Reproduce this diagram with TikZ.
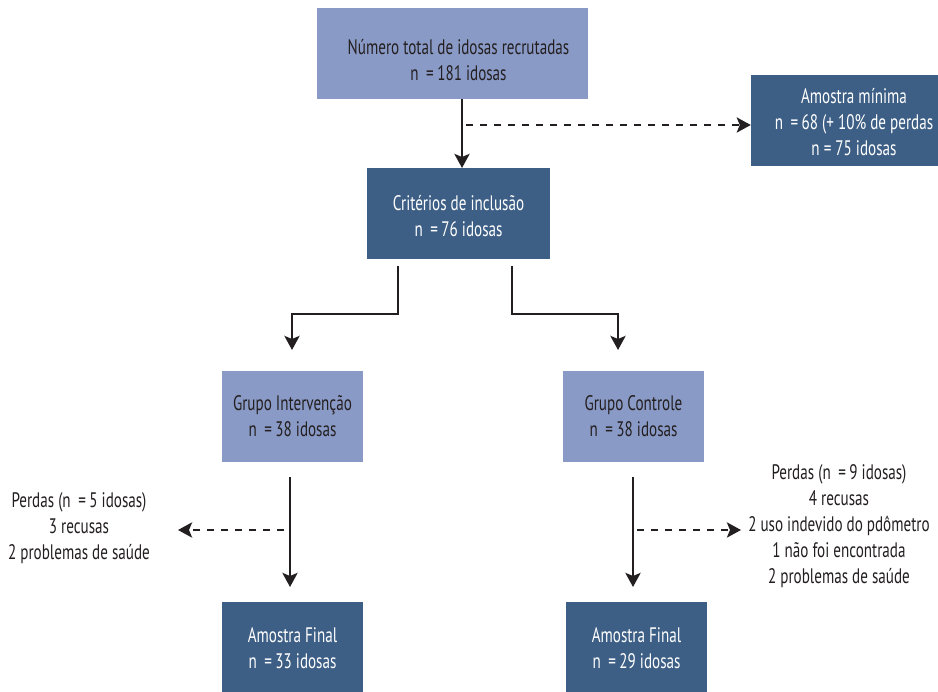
\documentclass[tikz,border=0pt]{standalone}
\usepackage{fontspec}
\setmainfont{PT Sans}[FakeStretch=0.72]
\usetikzlibrary{arrows.meta}
\definecolor{lightbox}{HTML}{8A9AC6}
\definecolor{darkbox}{HTML}{3D5F85}
\definecolor{ink}{HTML}{231F20}
\begin{document}
\begin{tikzpicture}[x=1pt,y=-1pt,
  every node/.style={font=\fontsize{21}{26}\selectfont},
  lbox/.style={fill=lightbox, inner sep=0pt, minimum height=91pt},
  dbox/.style={fill=darkbox, inner sep=0pt, minimum height=91pt},
  ltxt/.style={text=ink, align=center, inner sep=0pt},
  dtxt/.style={text=white, align=center, inner sep=0pt},
  note/.style={text=ink, align=center, inner sep=0pt},
  arr/.style={line width=2.8pt, draw=ink, -{Stealth[length=14pt,width=15pt,inset=3pt]}},
  darr/.style={line width=2.7pt, draw=ink, dash pattern=on 7pt off 7pt, -{Stealth[length=14pt,width=15pt,inset=3pt]}}]
\useasboundingbox (0,0) rectangle (938,692);
\fill[white] (0,0) rectangle (938,692);
% boxes
\node[lbox, minimum width=271pt] (top) at (452.5,53.5) {};
\node[ltxt] (toptext) at ([xshift=6pt,yshift=-7pt]top.center) {Número total de idosas recrutadas\\n\ \,=\,181 idosas};
\node[dbox, minimum width=206pt] (amin) at (854,120.5) {};
\node[dtxt] (amintext) at ([yshift=-2pt]amin.center) {Amostra mínima\\n\ \,=\,68 (+ 10\% de perdas\\n = 75 idosas};
\node[dbox, minimum width=183pt] (crit) at (458.5,213.5) {};
\node[dtxt] (crittext) at ([yshift=-3pt]crit.center) {Critérios de inclusão\\n\ \,=\,76 idosas};
\node[lbox, minimum width=141pt] (gi) at (292.5,416.5) {};
\node[ltxt] (gitext) at (gi.center) {Grupo Intervenção\\n\ \,=\,38 idosas};
\node[lbox, minimum width=141pt] (gc) at (633.5,416.5) {};
\node[ltxt] (gctext) at (gc.center) {Grupo Controle\\n\ \,=\,38 idosas};
\node[dbox, minimum width=141pt] (afi) at (292.5,648) {};
\node[dtxt] (afitext) at (afi.center) {Amostra Final\\n\ \,=\,33 idosas};
\node[dbox, minimum width=141pt] (afc) at (636.5,648) {};
\node[dtxt] (afctext) at (afc.center) {Amostra Final\\n\ \,=\,29 idosas};
\node[note] (pl) at (79,528) {Perdas (n\ \,=\,5 idosas)\\3 recusas\\2 problemas de saúde};
\node[note] (pr) at (839,526) {Perdas (n\ \,=\,9 idosas)\\4 recusas\\2 uso indevido do pdômetro\\1 não foi encontrada\\2 problemas de saúde};
% connector points
\coordinate (t1) at (462,99);
\coordinate (t2) at (462,168);
\coordinate (d1) at (466,125);
\coordinate (bl) at (398,266);
\coordinate (blm) at (292,314);
\coordinate (ble) at (292,350);
\coordinate (br) at (512,266);
\coordinate (brm) at (618,314);
\coordinate (bre) at (618,350);
\coordinate (vl1) at (290,477);
\coordinate (vl2) at (290,587);
\coordinate (vr1) at (633,477);
\coordinate (vr2) at (633,587);
\coordinate (dl1) at (284,530);
\coordinate (dl2) at (178,530);
\coordinate (dr1) at (637,530);
\coordinate (dr2) at (741,530);
% connectors
\draw[arr] (t1) -- (t2);
\draw[darr] (d1) -- (d1 -| amin.west);
\draw[arr] (bl) |- (blm) -- (ble);
\draw[arr] (br) |- (brm) -- (bre);
\draw[arr] (vl1) -- (vl2);
\draw[arr] (vr1) -- (vr2);
\draw[darr] (dl1) -- (dl2);
\draw[darr] (dr1) -- (dr2);
\end{tikzpicture}
\end{document}
